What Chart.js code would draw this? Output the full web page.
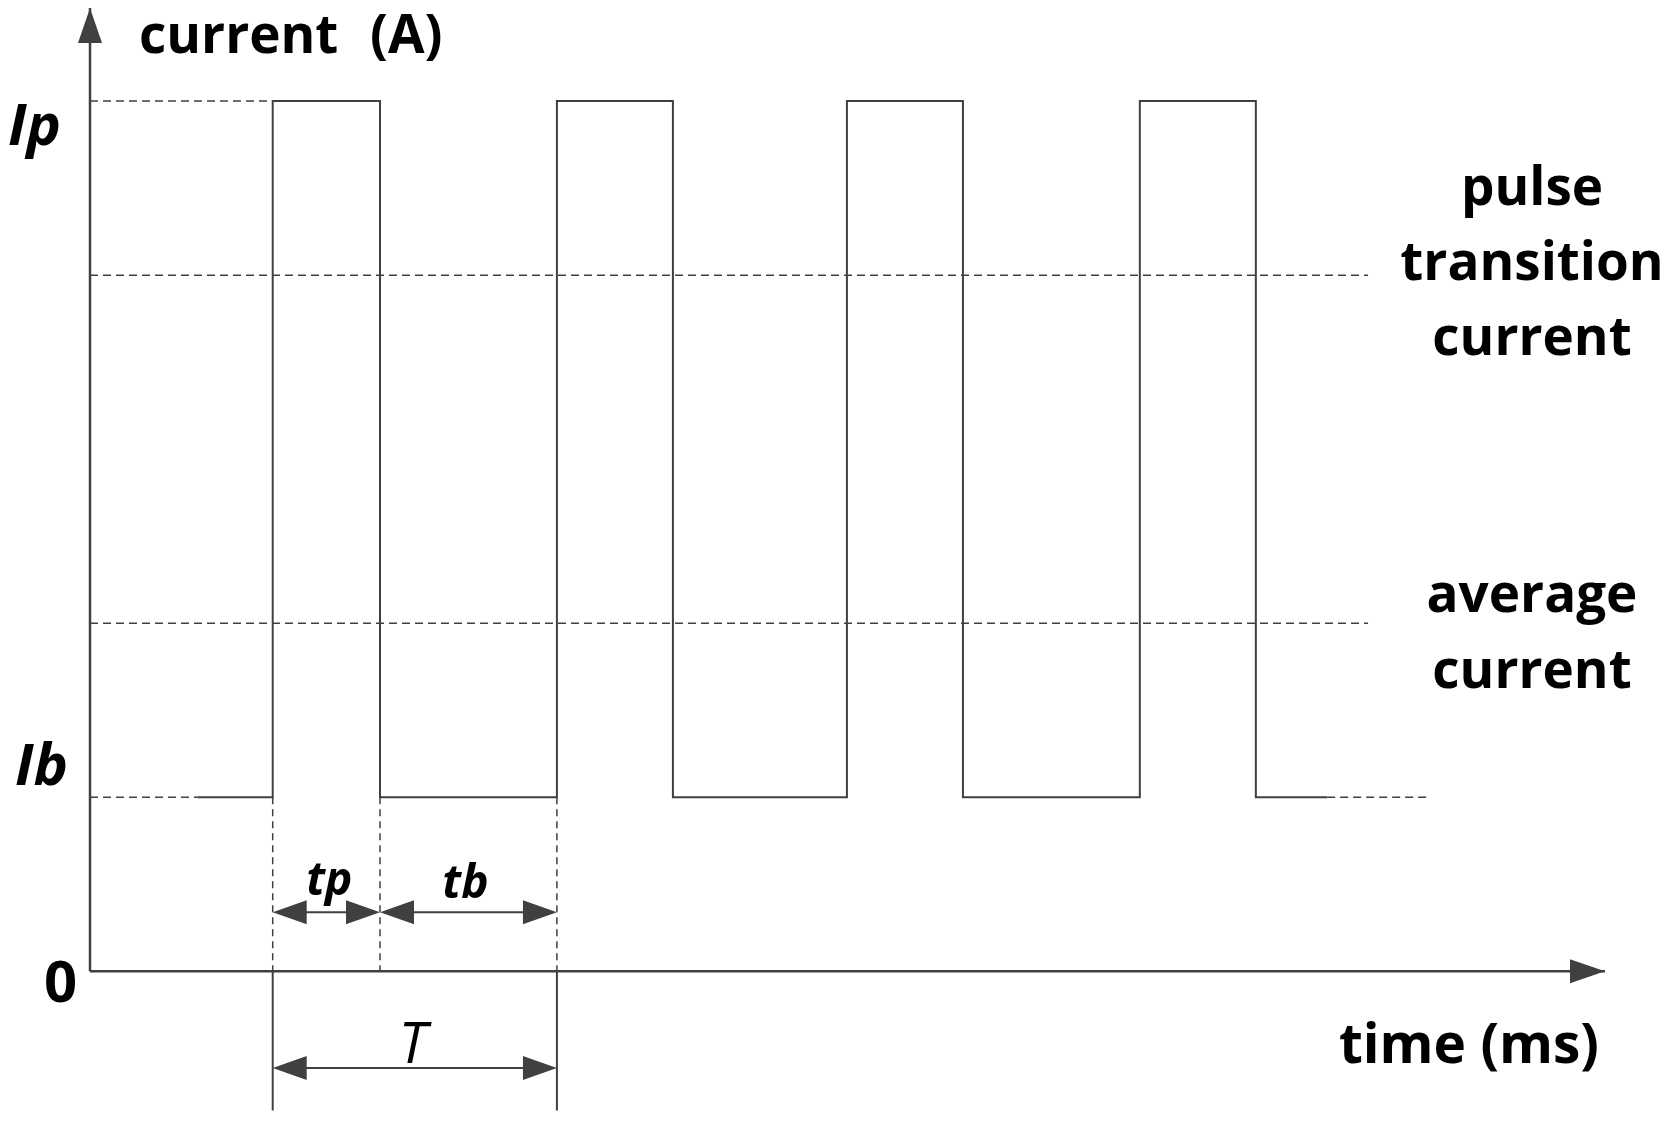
<!DOCTYPE html>
<html>
<head>
<meta charset="utf-8">
<script src="https://cdn.jsdelivr.net/npm/chart.js@4.4.1/dist/chart.umd.min.js"></script>
<style>
    html, body { margin: 0; padding: 0; background: #fff; }
    #wrap { width: 1671px; height: 1121px; position: relative; }
</style>
</head>
<body>
<div id="wrap"><canvas id="pulseChart"></canvas></div>
<script>
// Time axis (ms) and current axis (A)
const TIME_MAX = 52.24;
const CURRENT_MIN = -1.72;
const CURRENT_MAX = 11.07;

// Current levels
const levelLabels = ['Ip', 'Ib'];
const levelValues = [10, 2];
const refLabels = [['pulse', 'transition', 'current'], ['average', 'current']];
const refValues = [8, 4];

// Pulse edges (ms)
const riseTimes = [6.3, 16.1, 26.1, 36.2];
const fallTimes = [10.0, 20.1, 30.1, 40.2];

// Where the solid base line starts / ends, and the dashed tails
const baseSolidStart = 3.7;
const baseSolidEnd = 42.66;
const baseDashEnd = 46.24;
const refLineEnd = 44.07;

// Dimension marks: tp, tb and period T
const dimLabels = ['tp', 'tb', 'T'];
const dimLevel = 0.68;
const periodLevel = -1.11;
const markerBottom = -1.6;

const IP = levelValues[0];
const IB = levelValues[1];
const LINE = '#404040';

// Build the square wave from the edges
const wave = [{ x: baseSolidStart, y: IB }];
riseTimes.forEach((r, i) => {
    wave.push({ x: r, y: IB }, { x: r, y: IP }, { x: fallTimes[i], y: IP }, { x: fallTimes[i], y: IB });
});
wave.push({ x: baseSolidEnd, y: IB });

function seg(x1, y1, x2, y2) {
    return [{ x: x1, y: y1 }, { x: x2, y: y2 }];
}

function solid(data, width) {
    return { data: data, borderColor: LINE, borderWidth: width || 2, pointRadius: 0, clip: false, tension: 0 };
}
function dashed(data, dash) {
    return { data: data, borderColor: LINE, borderWidth: 1.5, borderDash: dash || [8, 5], pointRadius: 0, clip: false, tension: 0 };
}

const datasets = [
    solid(wave, 2),
    // axes
    solid(seg(0, 0, TIME_MAX, 0), 2.5),
    solid(seg(0, 0, 0, CURRENT_MAX), 2.5),
    // level guides
    dashed(seg(0, IB, baseSolidStart, IB)),
    dashed(seg(baseSolidEnd, IB, baseDashEnd, IB)),
    dashed(seg(0, IP, riseTimes[0], IP)),
    dashed(seg(0, refValues[0], refLineEnd, refValues[0])),
    dashed(seg(0, refValues[1], refLineEnd, refValues[1])),
    // time markers
    dashed(seg(riseTimes[0], IB, riseTimes[0], 0), [7, 5]),
    dashed(seg(fallTimes[0], IB, fallTimes[0], 0), [7, 5]),
    dashed(seg(riseTimes[1], IB, riseTimes[1], 0), [7, 5]),
    solid(seg(riseTimes[0], 0, riseTimes[0], markerBottom), 2),
    solid(seg(riseTimes[1], 0, riseTimes[1], markerBottom), 2)
];

function arrowHead(ctx, tipX, tipY, dir, len, half) {
    // dir: 1 = points right, -1 = left, 'up'
    ctx.beginPath();
    if (dir === 'up') {
        ctx.moveTo(tipX, tipY);
        ctx.lineTo(tipX - half, tipY + len);
        ctx.lineTo(tipX + half, tipY + len);
    } else {
        ctx.moveTo(tipX, tipY);
        ctx.lineTo(tipX - dir * len, tipY - half);
        ctx.lineTo(tipX - dir * len, tipY + half);
    }
    ctx.closePath();
    ctx.fill();
}

function dimension(ctx, x1, x2, y) {
    ctx.beginPath();
    ctx.moveTo(x1 + 20, y);
    ctx.lineTo(x2 - 20, y);
    ctx.stroke();
    arrowHead(ctx, x1, y, -1, 34, 12);
    arrowHead(ctx, x2, y, 1, 34, 12);
}

const annotations = {
    id: 'annotations',
    afterDatasetsDraw(chart) {
        const ctx = chart.ctx;
        const xs = chart.scales.x;
        const ys = chart.scales.y;
        const x0 = xs.getPixelForValue(0);
        const y0 = ys.getPixelForValue(0);

        ctx.save();
        ctx.fillStyle = LINE;
        ctx.strokeStyle = LINE;
        ctx.lineWidth = 2;

        // axis arrows
        arrowHead(ctx, x0, ys.getPixelForValue(CURRENT_MAX), 'up', 35, 12);
        arrowHead(ctx, xs.getPixelForValue(TIME_MAX), y0, 1, 35, 12);

        // tp, tb and T
        const r0 = xs.getPixelForValue(riseTimes[0]);
        const f0 = xs.getPixelForValue(fallTimes[0]);
        const r1 = xs.getPixelForValue(riseTimes[1]);
        const yd = ys.getPixelForValue(dimLevel);
        const yT = ys.getPixelForValue(periodLevel);
        dimension(ctx, r0, f0, yd);
        dimension(ctx, f0, r1, yd);
        dimension(ctx, r0, r1, yT);

        // texts
        ctx.fillStyle = '#000';
        ctx.textBaseline = 'alphabetic';

        ctx.textAlign = 'left';
        ctx.font = 'bold 53px "Open Sans"';
        ctx.fillText('current', 139, 53);
        ctx.fillText('(A)', 370, 53);

        ctx.textAlign = 'right';
        ctx.font = 'bold 55px "Open Sans"';
        ctx.fillText('time (ms)', 1599, 1063);

        ctx.textAlign = 'left';
        ctx.font = 'italic bold 58px "Open Sans"';
        ctx.fillText(levelLabels[0], 8, ys.getPixelForValue(IP) + 44);
        ctx.fillText(levelLabels[1], 15, ys.getPixelForValue(IB) - 12);
        ctx.font = 'bold 58px "Open Sans"';
        ctx.fillText('0', 44, y0 + 31);

        ctx.textAlign = 'center';
        ctx.font = 'italic bold 46px "Open Sans"';
        ctx.fillText(dimLabels[0], (r0 + f0) / 2 + 3, yd - 17);
        ctx.fillText(dimLabels[1], (f0 + r1) / 2 - 3, yd - 14);
        ctx.font = 'italic 56px "Open Sans"';
        ctx.fillText(dimLabels[2], (r0 + r1) / 2 - 2, yT - 5);

        ctx.font = 'bold 53px "Open Sans"';
        const cx = 1532;
        [[205, 280, 355], [612, 688]].forEach((lines, i) => {
            lines.forEach((base, j) => ctx.fillText(refLabels[i][j], cx, base));
        });

        ctx.restore();
    }
};

new Chart(document.getElementById('pulseChart'), {
    type: 'line',
    data: { datasets: datasets },
    options: {
        responsive: true,
        maintainAspectRatio: false,
        animation: false,
        layout: { padding: { left: 90, right: 66, top: 8, bottom: 0 } },
        scales: {
            x: { type: 'linear', min: 0, max: TIME_MAX, display: false },
            y: { type: 'linear', min: CURRENT_MIN, max: CURRENT_MAX, display: false }
        },
        plugins: {
            legend: { display: false },
            tooltip: { enabled: false }
        }
    },
    plugins: [annotations]
});
</script>
</body>
</html>
